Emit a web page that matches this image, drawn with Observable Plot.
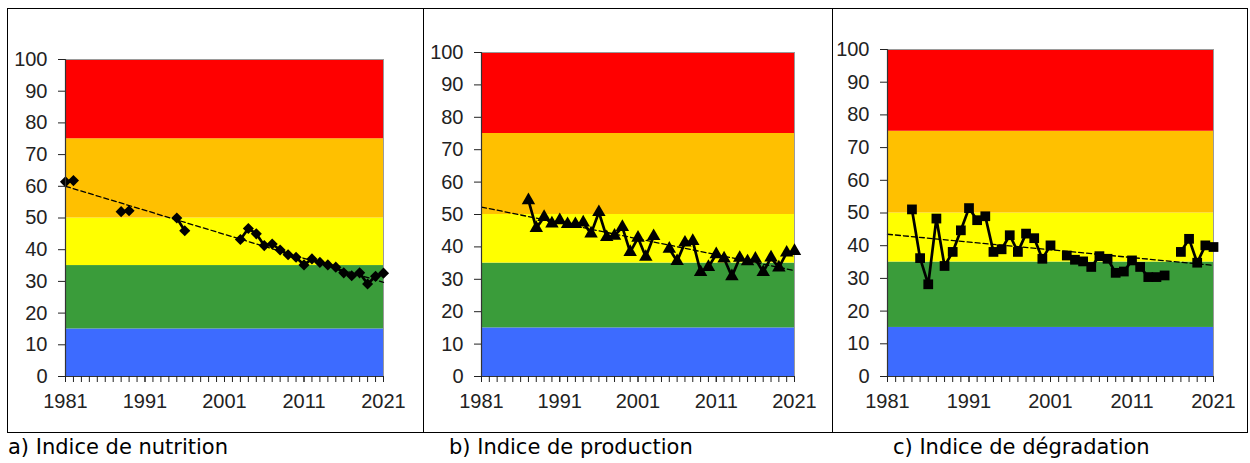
<!DOCTYPE html>
<html><head><meta charset="utf-8">
<script src="https://cdn.jsdelivr.net/npm/d3@7"></script>
<script src="https://cdn.jsdelivr.net/npm/@observablehq/plot@0.6"></script>
<style>
body{margin:0;background:#fff;}
#wrap{position:relative;width:1250px;height:463px;overflow:hidden;background:#fff;}
.panel{position:absolute;top:9px;}
.panel svg{display:block;}
.line{position:absolute;background:#000;z-index:5;}
.cap{position:absolute;top:437px;font-family:"DejaVu Sans",sans-serif;font-size:21px;line-height:21px;color:#000;white-space:nowrap;}
</style></head><body>
<div id="wrap">
  <div class="line" style="left:7px;top:8px;width:1241px;height:1px"></div>
  <div class="line" style="left:7px;top:432px;width:1241px;height:1px"></div>
  <div class="line" style="left:7px;top:8px;width:1px;height:425px"></div>
  <div class="line" style="left:1247px;top:8px;width:1px;height:425px"></div>
  <div class="line" style="left:423px;top:8px;width:1px;height:425px"></div>
  <div class="line" style="left:832px;top:8px;width:1px;height:425px"></div>
  <div id="pa" class="panel" style="left:8px"></div>
  <div id="pb" class="panel" style="left:424px"></div>
  <div id="pc" class="panel" style="left:833px"></div>
  <div class="cap" style="left:8px">a) Indice de nutrition</div>
  <div class="cap" style="left:449px">b) Indice de production</div>
  <div class="cap" style="left:893px">c) Indice de dégradation</div>
</div>
<script>
// ---- data ----
const years = [1981,1982,1983,1984,1985,1986,1987,1988,1989,1990,
               1991,1992,1993,1994,1995,1996,1997,1998,1999,2000,
               2001,2002,2003,2004,2005,2006,2007,2008,2009,2010,
               2011,2012,2013,2014,2015,2016,2017,2018,2019,2020,2021];
const majorYears = [1981,1991,2001,2011,2021];
const yTicks = [0,10,20,30,40,50,60,70,80,90,100];

const nutrition = [61.4,61.8,null,null,null,null,null,52.0,52.3,null,
                   null,null,null,null,50.0,46.0,null,null,null,null,
                   null,null,43.2,46.7,45.0,41.3,41.8,39.9,38.4,37.6,
                   35.2,37.1,36.0,35.2,34.5,32.7,31.8,32.7,29.2,31.6,32.6];
const production = [null,null,null,null,null,null,54.4,45.8,49.2,47.2,
                    48.2,47.0,47.0,47.5,44.1,50.7,43.0,43.4,46.1,38.4,
                    42.8,36.9,43.3,null,39.4,35.6,41.3,41.8,32.2,33.8,
                    37.7,36.4,30.9,36.6,35.5,36.3,32.2,36.7,33.6,38.2,38.7];
const degradation = [null,null,null,51.1,36.2,28.2,48.3,33.8,38.1,44.7,
                     51.5,47.8,49.0,38.1,38.9,43.2,38.1,43.7,42.3,36.0,
                     40.1,null,37.0,35.7,35.2,33.5,36.8,36.0,31.7,32.1,
                     35.5,33.5,30.4,30.4,30.9,null,38.1,42.1,34.8,40.1,39.6];

// trend lines (end points)
const trendYears = [1981, 2021];
const trendNutrition = [60.0, 29.7];
const trendProduction = [52.3, 32.7];
const trendDegradation = [43.5, 34.0];

// class bands
const bandLow  = [0, 15, 35, 50, 75];
const bandHigh = [15, 35, 50, 75, 100];
const bandColors = ["#3D6BFF", "#3A9C3A", "#FFFF00", "#FFC000", "#FF0000"];

// ---- drawing ----
const bands = bandLow.map((lo, i) => ({lo, hi: bandHigh[i], color: bandColors[i], x1: years[0], x2: years[years.length - 1]}));

function panel(values, trendVals, symbol, r, w, h, m) {
  const data = years.map((year, i) => ({year, v: values[i]}));
  const trend = trendYears.map((year, i) => ({year, v: trendVals[i]}));
  return Plot.plot({
    width: w, height: h,
    marginLeft: m[0], marginRight: m[1], marginTop: m[2], marginBottom: m[3],
    style: {fontFamily: "'Liberation Sans', Arial, sans-serif", fontSize: "20px", color: "#222", background: "transparent", overflow: "visible"},
    x: {domain: [years[0], years[years.length - 1]]},
    y: {domain: [0, 100]},
    color: {type: "identity"},
    marks: [
      Plot.rect(bands, {x1: "x1", x2: "x2", y1: "lo", y2: "hi", fill: "color"}),
      Plot.frame({stroke: "#9a9a9a", strokeWidth: 1}),
      Plot.line(trend, {x: "year", y: "v", stroke: "#000", strokeWidth: 1.3, strokeDasharray: "5,3"}),
      Plot.line(data, {x: "year", y: "v", stroke: "#000", strokeWidth: 2.7}),
      Plot.dot(data, {x: "year", y: "v", symbol, r, fill: "#000", stroke: "none"}),
      Plot.ruleX([years[0]], {stroke: "#333", strokeWidth: 1.2}),
      Plot.ruleY([0], {stroke: "#333", strokeWidth: 1.2}),
      Plot.axisY({ticks: yTicks, tickSize: 7, tickPadding: 11, tickFormat: d => String(d)}),
      Plot.axisX({ticks: years, tickSize: 6, tickFormat: () => ""}),
      Plot.axisX({ticks: majorYears, tickSize: 6, tickPadding: 11, tickFormat: d => String(d)})
    ]
  });
}

document.getElementById("pa").append(panel(nutrition, trendNutrition, d3.symbolDiamond2, 5, 414, 422, [57, 39, 50, 55]));
document.getElementById("pb").append(panel(production, trendProduction, d3.symbolTriangle, 5, 408, 422, [57, 38, 43, 55]));
document.getElementById("pc").append(panel(degradation, trendDegradation, d3.symbolSquare, 5.5, 413, 422, [54, 33, 40, 55]));
</script>
</body></html>
